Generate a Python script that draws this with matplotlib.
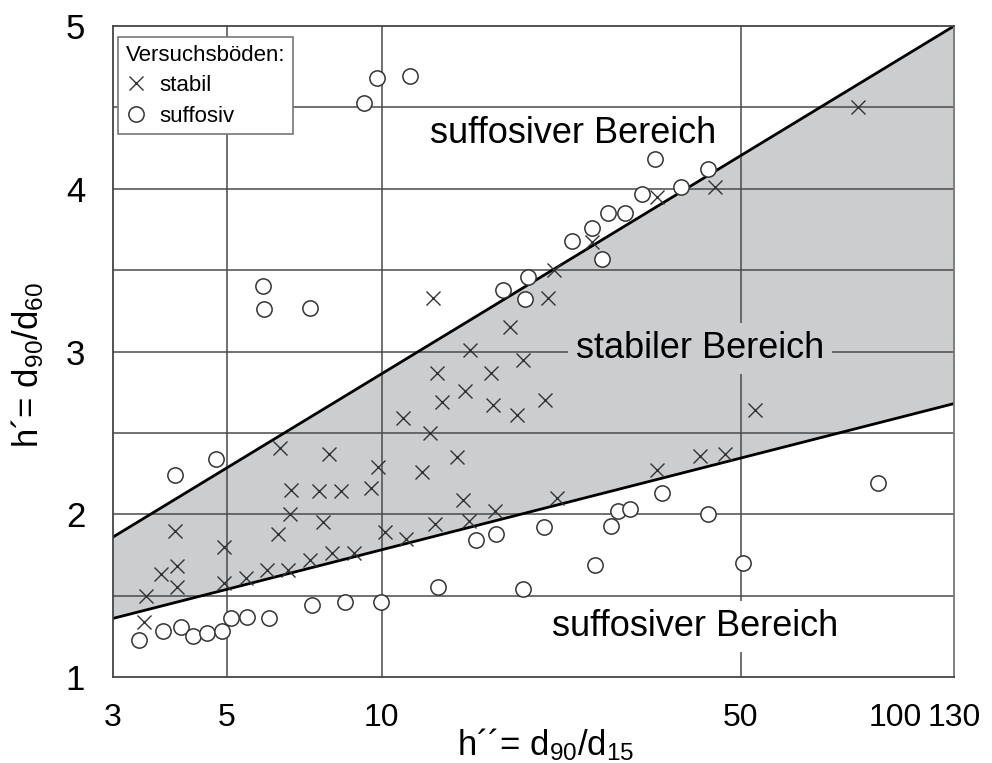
import matplotlib
matplotlib.use("Agg")
import matplotlib.pyplot as plt
from matplotlib.ticker import NullLocator, FixedLocator, FixedFormatter
from matplotlib.lines import Line2D

plt.rcParams['font.family'] = ['Liberation Sans', 'DejaVu Sans']
plt.rcParams['mathtext.fontset'] = 'custom'
plt.rcParams['mathtext.rm'] = 'Liberation Sans'
plt.rcParams['mathtext.it'] = 'Liberation Sans'
plt.rcParams['mathtext.default'] = 'regular'

# Boundary lines of the stable region (h'' at both ends, h' values)
boundary_x = [3, 130]
upper_boundary = [1.86, 5.0]
lower_boundary = [1.36, 2.68]

# Tested soils: stable
stabil_x = [84.5, 44.5, 34.4, 25.7, 21.65, 21.1, 12.6, 17.8, 14.86, 18.84,
            12.8, 16.3, 14.5, 13.1, 16.5, 20.8, 18.3, 11.0, 12.4, 53.3,
            6.34, 7.9, 9.84, 12.0, 14.0, 34.4, 41.6, 46.6, 6.66, 7.55,
            8.33, 9.53, 6.63, 7.69, 3.96, 6.28, 4.93, 10.15, 11.15, 3.72,
            4.0, 4.0, 3.48, 4.93, 5.45, 5.98, 6.57, 7.25, 8.0, 8.83,
            3.45, 12.7, 14.8, 14.4, 16.6, 21.9]
stabil_y = [4.50, 4.01, 3.95, 3.67, 3.50, 3.33, 3.33, 3.15, 3.01, 2.95,
            2.87, 2.87, 2.76, 2.69, 2.67, 2.70, 2.61, 2.59, 2.50, 2.64,
            2.41, 2.37, 2.29, 2.26, 2.35, 2.27, 2.36, 2.37, 2.15, 2.14,
            2.14, 2.16, 2.00, 1.95, 1.90, 1.88, 1.80, 1.89, 1.85, 1.63,
            1.68, 1.55, 1.50, 1.58, 1.61, 1.66, 1.66, 1.72, 1.76, 1.76,
            1.34, 1.94, 1.96, 2.09, 2.02, 2.10]

# Tested soils: suffosive
suffosiv_x = [9.8, 11.35, 9.24, 34.0, 38.3, 32.1, 27.6, 29.8, 25.7, 23.5,
              43.2, 26.8, 19.3, 17.2, 19.0, 5.87, 5.9, 7.25, 4.76, 3.96,
              3.37, 3.75, 4.07, 4.29, 4.57, 4.89, 5.09, 5.47, 6.04, 7.32,
              8.48, 9.97, 12.87, 18.84, 15.26, 16.7, 20.7, 26.0, 27.9, 28.8,
              30.4, 35.1, 43.2, 50.5, 92.5]
suffosiv_y = [4.68, 4.69, 4.53, 4.18, 4.01, 3.97, 3.85, 3.85, 3.76, 3.68,
              4.12, 3.57, 3.46, 3.38, 3.32, 3.40, 3.26, 3.27, 2.34, 2.24,
              1.23, 1.28, 1.31, 1.25, 1.27, 1.28, 1.36, 1.37, 1.36, 1.44,
              1.46, 1.46, 1.55, 1.54, 1.84, 1.88, 1.92, 1.69, 1.93, 2.02,
              2.03, 2.13, 2.00, 1.70, 2.19]

x_ticks = [3, 5, 10, 50, 100, 130]
x_tick_labels = ["3", "5", "10", "50", "100", "130"]
x_grid = [5, 10, 50]
y_ticks = [1, 2, 3, 4, 5]
y_grid = [1.5, 2, 2.5, 3, 3.5, 4, 4.5]

FILL = '#cbcdcf'
GRID = '#4a4a4a'
MARK = '#333333'

fig = plt.figure(figsize=(9.92, 7.63), dpi=100)
ax = fig.add_axes([0.1139, 0.1127, 0.8478, 0.8532])
ax.set_xscale('log')
ax.set_xlim(3, 130)
ax.set_ylim(1, 5)

# stable band between the two boundary lines
ax.fill_between(boundary_x, lower_boundary, upper_boundary, color=FILL,
                linewidth=0, zorder=1)

for gx in x_grid:
    ax.axvline(gx, color=GRID, linewidth=1.1, zorder=1.5)
for gy in y_grid:
    ax.axhline(gy, color=GRID, linewidth=1.1, zorder=1.5)

ax.plot(boundary_x, upper_boundary, color='black', linewidth=2.0, zorder=2)
ax.plot(boundary_x, lower_boundary, color='black', linewidth=2.0, zorder=2)

ax.plot(stabil_x, stabil_y, linestyle='none', marker='x', markersize=10.5,
        markeredgewidth=1.0, color=MARK, zorder=4)
ax.plot(suffosiv_x, suffosiv_y, linestyle='none', marker='o', markersize=11,
        markeredgewidth=1.1, markeredgecolor=MARK, markerfacecolor='white',
        zorder=4)

# region labels
ax.text(23.6, 4.34, "suffosiver Bereich", fontsize=26, ha='center',
        va='center', zorder=3)
ax.text(41.6, 3.02, "stabiler Bereich", fontsize=26, ha='center',
        va='center', zorder=3,
        bbox=dict(boxstyle='square,pad=0.22', facecolor=FILL, edgecolor='none'))
ax.text(40.7, 1.31, "suffosiver Bereich", fontsize=26, ha='center',
        va='center', zorder=3,
        bbox=dict(boxstyle='square,pad=0.22', facecolor='white', edgecolor='none'))

# axes and ticks
ax.xaxis.set_major_locator(FixedLocator(x_ticks))
ax.xaxis.set_major_formatter(FixedFormatter(x_tick_labels))
ax.xaxis.set_minor_locator(NullLocator())
ax.set_yticks(y_ticks)
ax.set_yticklabels([str(v) for v in y_ticks])
ax.tick_params(axis='x', length=0, pad=19, labelsize=23)
ax.tick_params(axis='y', length=0, pad=20, labelsize=25)

for side in ['left', 'bottom', 'top']:
    ax.spines[side].set_color('#444444')
    ax.spines[side].set_linewidth(1.3)
ax.spines['right'].set_color('#777777')
ax.spines['right'].set_linewidth(1.3)

ax.set_xlabel("h´´= d$_{90}$/d$_{15}$", fontsize=25)
ax.set_ylabel("h´= d$_{90}$/d$_{60}$", fontsize=25)
ax.xaxis.set_label_coords(0.514, -0.104)
ax.xaxis.label.set_verticalalignment('center')
ax.yaxis.set_label_coords(-0.101, 0.48)
ax.yaxis.label.set_verticalalignment('center')

handles = [
    Line2D([], [], linestyle='none', marker='x', markersize=10.5,
           markeredgewidth=1.0, color=MARK, label='stabil'),
    Line2D([], [], linestyle='none', marker='o', markersize=11,
           markeredgewidth=1.1, markeredgecolor=MARK, markerfacecolor='white',
           label='suffosiv'),
]
leg = ax.legend(handles=handles, title="Versuchsböden:", loc='upper left',
                bbox_to_anchor=(0.006, 0.983), borderaxespad=0,
                fontsize=16, title_fontsize=16, alignment='left',
                frameon=True, fancybox=False, framealpha=1,
                edgecolor='#777777', handlelength=0.9, handletextpad=0.6,
                borderpad=0.35, labelspacing=0.42)
leg.get_frame().set_linewidth(1.2)
leg.set_zorder(5)

fig.savefig("out.png", dpi=100)
